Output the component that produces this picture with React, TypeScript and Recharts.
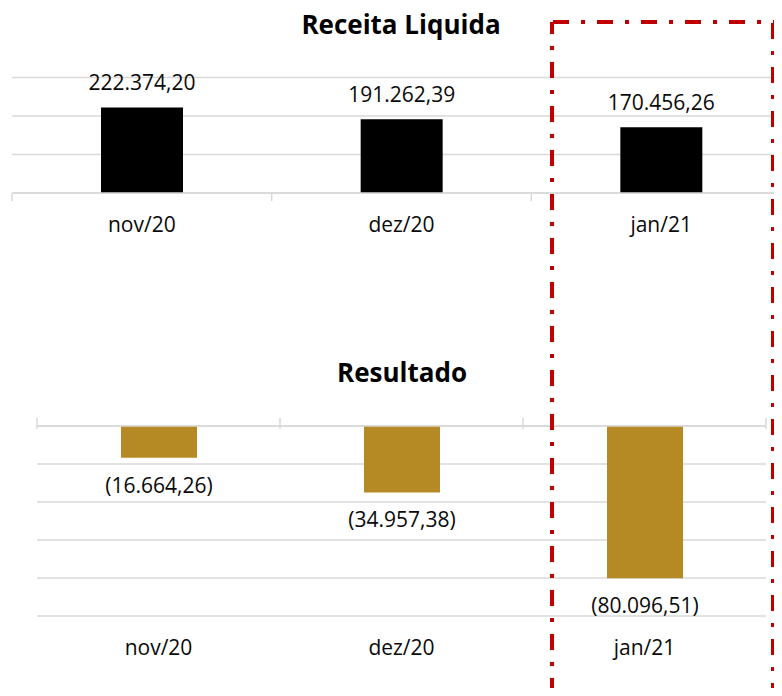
import { BarChart, Bar, XAxis, YAxis, CartesianGrid, LabelList } from 'recharts';

const months = ['nov/20', 'dez/20', 'jan/21'];
const receitaLiquida = [222374.2, 191262.39, 170456.26];
const resultado = [-16664.26, -34957.38, -80096.51];
const receitaTicks = [0, 100000, 200000, 300000];
const resultadoTicks = [-100000, -80000, -60000, -40000, -20000, 0];

const receitaData = months.map((month, i) => ({ month, value: receitaLiquida[i] }));
const resultadoData = months.map((month, i) => ({ month, value: resultado[i] }));

const GRID = '#d9d9d9';
const FONT = '"Open Sans", sans-serif';
const TEXT = '#0a0a0a';
const HIGHLIGHT = '#c00000';

// 222374.2 -> "222.374,20", negatives in parentheses
function formatBR(v: number) {
  const [int, dec] = Math.abs(v).toFixed(2).split('.');
  const s = int.replace(/\B(?=(\d{3})+(?!\d))/g, '.') + ',' + dec;
  return v < 0 ? `(${s})` : s;
}

function labelAbove(props: any) {
  const { x, y, width, height, value } = props;
  const top = Math.min(y, y + height);
  return (
    <text x={x + width / 2} y={top - 17} textAnchor="middle" fontFamily={FONT} fontSize={21} fill={TEXT}>
      {formatBR(value)}
    </text>
  );
}

function labelBelow(props: any) {
  const { x, y, width, height, value } = props;
  const bottom = Math.max(y, y + height);
  return (
    <text x={x + width / 2} y={bottom + 35} textAnchor="middle" fontFamily={FONT} fontSize={21} fill={TEXT}>
      {formatBR(value)}
    </text>
  );
}

// category label plus tick marks on the category boundaries
function MonthTick(props: any) {
  const { x, y, payload, index, half, markUp, markDown, showLabel } = props;
  const h = payload.offset || half;
  const last = index === months.length - 1;
  return (
    <g>
      {(markUp || markDown) && (
        <line x1={x - h} x2={x - h} y1={y - markUp} y2={y + markDown} stroke={GRID} strokeWidth={1.5} />
      )}
      {(markUp || markDown) && last && (
        <line x1={x + h} x2={x + h} y1={y - markUp} y2={y + markDown} stroke={GRID} strokeWidth={1.5} />
      )}
      {showLabel && (
        <text x={x} y={y + 39} textAnchor="middle" fontFamily={FONT} fontSize={21} fill={TEXT}>
          {payload.value}
        </text>
      )}
    </g>
  );
}

const dash = { stroke: HIGHLIGHT, strokeWidth: 4, strokeDasharray: '16 12 4 12' };

export default function App() {
  return (
    <div
      style={{
        position: 'relative',
        margin: -8,
        width: 782,
        height: 696,
        overflow: 'hidden',
        background: '#fff',
      }}
    >
      <div style={{ position: 'absolute', left: 0, top: 0 }}>
        <BarChart
          width={791}
          height={250}
          data={receitaData}
          margin={{ top: 77.5, right: 0, left: 12, bottom: 7 }}
        >
          <CartesianGrid vertical={false} stroke={GRID} strokeWidth={1.5} />
          <YAxis hide domain={[0, 300000]} ticks={receitaTicks} />
          <XAxis
            dataKey="month"
            height={50}
            axisLine={{ stroke: GRID, strokeWidth: 1.5 }}
            tickLine={false}
            tickSize={0}
            tickMargin={0}
            interval={0}
            tick={(p: any) => <MonthTick {...p} half={129.75} markUp={0} markDown={8} showLabel />}
          />
          <Bar dataKey="value" fill="#000" barSize={82} isAnimationActive={false}>
            <LabelList dataKey="value" content={labelAbove} />
          </Bar>
        </BarChart>
      </div>

      <div style={{ position: 'absolute', left: 0, top: 330 }}>
        <BarChart
          width={782}
          height={366}
          data={resultadoData}
          margin={{ top: 76, right: 16, left: 37, bottom: 30 }}
        >
          <CartesianGrid vertical={false} stroke={GRID} strokeWidth={1.5} />
          <YAxis hide domain={[-100000, 0]} ticks={resultadoTicks} />
          <XAxis
            dataKey="month"
            height={50}
            axisLine={false}
            tickLine={false}
            tickSize={0}
            tickMargin={0}
            interval={0}
            tick={(p: any) => <MonthTick {...p} half={121.5} markUp={0} markDown={0} showLabel />}
          />
          <XAxis
            xAxisId="top"
            dataKey="month"
            orientation="top"
            height={20}
            axisLine={{ stroke: GRID, strokeWidth: 1.5 }}
            tickLine={false}
            tickSize={0}
            tickMargin={0}
            interval={0}
            tick={(p: any) => <MonthTick {...p} half={121.5} markUp={8} markDown={3} showLabel={false} />}
          />
          <Bar dataKey="value" fill="#b58a25" barSize={76} isAnimationActive={false}>
            <LabelList dataKey="value" content={labelBelow} />
          </Bar>
        </BarChart>
      </div>

      <svg
        width={782}
        height={696}
        style={{ position: 'absolute', left: 0, top: 0, pointerEvents: 'none' }}
      >
        <text x={401} y={34} textAnchor="middle" fontFamily={FONT} fontWeight={700} fontSize={26} fill="#000">
          Receita Liquida
        </text>
        <text x={402} y={382} textAnchor="middle" fontFamily={FONT} fontWeight={700} fontSize={26} fill="#000">
          Resultado
        </text>
        {/* highlight box around jan/21, each side dashed on its own */}
        <line x1={553} y1={22} x2={775} y2={22} {...dash} />
        <line x1={773} y1={23} x2={773} y2={696} {...dash} />
        <line x1={550} y1={694} x2={773} y2={694} {...dash} />
        <line x1={552} y1={694} x2={552} y2={22} {...dash} />
      </svg>
    </div>
  );
}
